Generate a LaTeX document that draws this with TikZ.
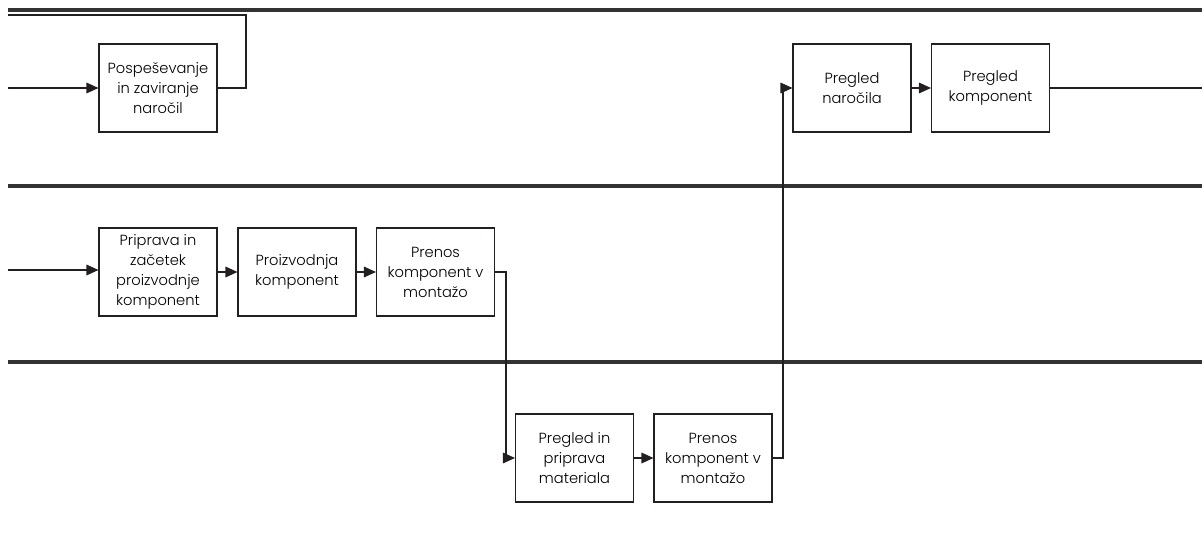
\documentclass[tikz,border=0pt]{standalone}
\usepackage{fontspec}
\setmainfont{Poppins}[UprightFont=* Light]
\usepackage{tikz}
\usetikzlibrary{arrows.meta}
\definecolor{my_black}{HTML}{231F20}
\definecolor{my_darkgray}{HTML}{333333}

\begin{document}
\begin{tikzpicture}[
    x=0.75pt, y=-0.75pt,
    lane/.style={my_darkgray, line width=2.6pt},
    line/.style={my_black, line width=0.8pt},
    flow/.style={line, -{Triangle[length=9pt, width=8pt]}},
    task/.style={draw=my_black, line width=0.8pt, rectangle, align=center,
        minimum width=88.5pt, minimum height=66pt, inner sep=2pt,
        font=\fontsize{11}{15}\selectfont}
]
\useasboundingbox (0, 0) rectangle (1202, 534);

% ---------------------------------------------------------------
%  Steze
% ---------------------------------------------------------------
\draw[lane] (8, 10) -- (1202, 10);
\draw[lane] (8, 186) -- (1202, 186);
\draw[lane] (8, 362) -- (1202, 362);

% Opravila
\node[task] (posp) at (158, 88) {Pospeševanje\\in zaviranje\\naročil};
\node[task] (pregnar) at (852, 88) {Pregled\\naročila};
\node[task] (pregkomp) at (990.5, 88) {Pregled\\komponent};

\node[task] (prip) at (158, 272) {Priprava in\\začetek\\proizvodnje\\komponent};
\node[task] (proizv) at (297, 272) {Proizvodnja\\komponent};
\node[task] (prenosA) at (435.5, 272) {Prenos\\komponent v\\montažo};

\node[task] (pregmat) at (574.5, 458) {Pregled in\\priprava\\materiala};
\node[task] (prenosB) at (713, 458) {Prenos\\komponent v\\montažo};

% Prosti konci
\coordinate (vhod1) at (8, 88);
\coordinate (vhod2) at (8, 270);
\coordinate (vrh) at (246, 15);
\coordinate (nazaj) at (8, 15);
\coordinate (dol) at (506, 458);
\coordinate (gor) at (783, 88);
\coordinate (izhod) at (1202, 88);

% Povezave
\draw[flow] (vhod1) -- (posp);
\draw[line] (posp.east) -| (vrh) -- (nazaj);
\draw[flow] (pregnar) -- (pregkomp);
\draw[line] (pregkomp.east) -- (izhod);

\draw[flow] (vhod2) -- (vhod2 -| prip.west);
\draw[flow] (prip) -- (proizv);
\draw[flow] (proizv) -- (prenosA);
\draw[line] (prenosA.east) -| (dol);
\draw[flow] (dol) -- (pregmat.west);

\draw[flow] (pregmat) -- (prenosB);
\draw[line] (prenosB.east) -| (gor);
\draw[flow] (gor) -- (pregnar.west);

\end{tikzpicture}
\end{document}
